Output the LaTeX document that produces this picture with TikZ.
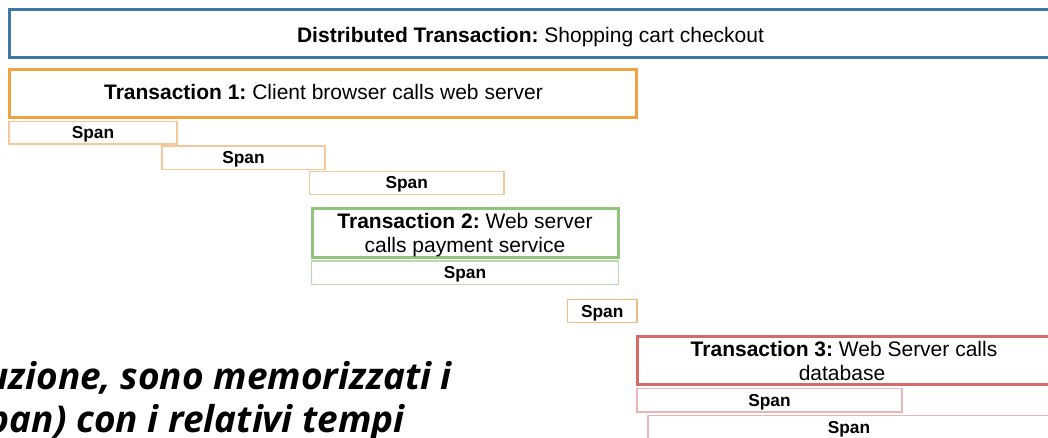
\documentclass[tikz,border=0pt]{standalone}
\usepackage{fontspec}
\setmainfont{Liberation Sans}
\newfontfamily\notefont{Open Sans}
\frenchspacing

\definecolor{distblue}{HTML}{3C78A8}
\definecolor{txorange}{HTML}{EFA23F}
\definecolor{spanorange}{HTML}{F5C89C}
\definecolor{spanorangedark}{HTML}{F4BA7E}
\definecolor{txgreen}{HTML}{93C47D}
\definecolor{spangreen}{HTML}{B9D8AB}
\definecolor{txred}{HTML}{D46A6A}
\definecolor{spanred}{HTML}{EDB5B5}

\begin{document}
\begin{tikzpicture}[x=1pt,y=-1pt,
  bigbox/.style={draw, line width=3pt, inner sep=0pt},
  spanbox/.style={draw, line width=1.3pt, inner sep=0pt},
  ttl/.style={font=\fontsize{21}{24}\selectfont, inner sep=0pt},
  spanlbl/.style={font=\fontsize{17.3}{20}\selectfont\bfseries, inner sep=0pt},
  note/.style={font=\notefont\bfseries\itshape\fontsize{37}{43}\selectfont, inner sep=0pt}]

\useasboundingbox (0,0) rectangle (1048,438);
\clip (0,0) rectangle (1048,438);
\fill[white] (0,0) rectangle (1048,438);

% distributed transaction
\node[bigbox, distblue, minimum width=1042.5pt, minimum height=48.5pt] (dist) at (530.75,33.75) {};
\node[ttl, anchor=base] (distlbl) at (530.5,42.7) {\textbf{Distributed Transaction:} Shopping cart checkout};

% transaction 1 and its spans
\node[bigbox, txorange, minimum width=627pt, minimum height=48pt] (tx1) at (323,93.5) {};
\node[ttl, anchor=base] (tx1lbl) at (323.5,100) {\textbf{Transaction 1:} Client browser calls web server};

\node[spanbox, spanorange, minimum width=168pt, minimum height=22.5pt] (s1) at (93,132.75) {};
\node[spanlbl, anchor=base] (s1lbl) at (93,138.5) {Span};
\node[spanbox, spanorange, minimum width=163pt, minimum height=23.5pt] (s2) at (243.5,157.75) {};
\node[spanlbl, anchor=base] (s2lbl) at (243.5,163.5) {Span};
\node[spanbox, spanorange, minimum width=194.5pt, minimum height=23pt] (s3) at (406.75,183) {};
\node[spanlbl, anchor=base] (s3lbl) at (406.75,189) {Span};

% transaction 2
\node[bigbox, txgreen, minimum width=306pt, minimum height=49pt] (tx2) at (465,233) {};
\node[ttl, anchor=base] (tx2lbla) at (465,228.5) {\textbf{Transaction 2:} Web server};
\node[ttl, anchor=base] (tx2lblb) at (465,252.5) {calls payment service};
\node[spanbox, spangreen, minimum width=307pt, minimum height=23.5pt] (s4) at (465,272.75) {};
\node[spanlbl, anchor=base] (s4lbl) at (465,278.5) {Span};

\node[spanbox, spanorangedark, minimum width=69.5pt, minimum height=23pt] (s5) at (602.25,311) {};
\node[spanlbl, anchor=base] (s5lbl) at (602.25,317) {Span};

% transaction 3
\node[bigbox, txred, minimum width=414.5pt, minimum height=48pt] (tx3) at (844.75,360.5) {};
\node[ttl, anchor=base] (tx3lbla) at (844,356.5) {\textbf{Transaction 3:} Web Server calls};
\node[ttl, anchor=base] (tx3lblb) at (842,380.5) {database};
\node[spanbox, spanred, minimum width=265pt, minimum height=23.5pt] (s6) at (769.5,400.25) {};
\node[spanlbl, anchor=base] (s6lbl) at (769.5,406) {Span};
\node[spanbox, spanred, minimum width=404pt, minimum height=26.5pt] (s7) at (850,428.75) {};
\node[spanlbl, anchor=base] (s7lbl) at (849,433) {Span};

% slide text behind the diagram
\node[note, anchor=base east] (notea) at (452,389) {uzione, sono memorizzati i};
\node[note, anchor=base east] (noteb) at (405,432) {pan) con i relativi tempi};
\end{tikzpicture}
\end{document}
